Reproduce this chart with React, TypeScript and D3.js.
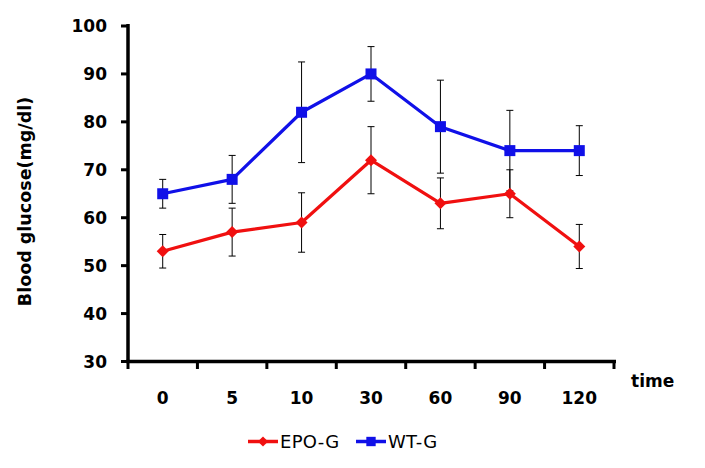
import React from "react";
import * as d3 from "d3";

const categories = ["0", "5", "10", "30", "60", "90", "120"];
const epoValues = [53, 57, 59, 72, 63, 65, 54];
const epoErrors = [3.5, 5, 6.2, 7, 5.3, 5, 4.6];
const wtValues = [65, 68, 82, 90, 79, 74, 74];
const wtErrors = [3, 5, 10.5, 5.7, 9.7, 8.4, 5.2];
const yTicks = [30, 40, 50, 60, 70, 80, 90, 100];

const W = 705, H = 468;
const FONT = "'DejaVu Sans', sans-serif";

export default function App() {
  const x = d3.scaleBand().domain(categories).range([128, 614]).padding(0);
  const y = d3.scaleLinear().domain([30, 100]).range([361.5, 26]);
  const cx = (c: string) => (x(c) as number) + x.bandwidth() / 2;
  const line = d3.line<number>().x((_, i) => cx(categories[i])).y((d) => y(d));
  const series = [
    { name: "EPO-G", values: epoValues, errors: epoErrors, color: "#f01010", shape: "diamond" },
    { name: "WT-G", values: wtValues, errors: wtErrors, color: "#1010e8", shape: "square" },
  ];
  const boundaries = [...categories.map((c) => x(c) as number), 614];
  const marker = (shape: string, px: number, py: number, color: string, key: string, s = 1) =>
    shape === "diamond" ? (
      <path key={key} d={`M${px},${py - 6 * s}L${px + 6 * s},${py}L${px},${py + 6 * s}L${px - 6 * s},${py}Z`} fill={color} />
    ) : (
      <rect key={key} x={px - 5.5 * s} y={py - 5.5 * s} width={11 * s} height={11 * s} fill={color} />
    );
  return (
    <svg width={W} height={H} style={{ position: "absolute", left: 0, top: 0, background: "#fff" }} fontFamily={FONT}>
      {/* error bars */}
      {series.map((s) =>
        s.values.map((v, i) => {
          const px = cx(categories[i]);
          const e = s.errors[i];
          return (
            <g key={s.name + "e" + i} stroke="#000" strokeWidth={1}>
              <line x1={px} x2={px} y1={y(v + e)} y2={y(v - e)} />
              <line x1={px - 3.5} x2={px + 3.5} y1={y(v + e)} y2={y(v + e)} />
              <line x1={px - 3.5} x2={px + 3.5} y1={y(v - e)} y2={y(v - e)} />
            </g>
          );
        })
      )}
      {series.map((s) => (
        <g key={s.name}>
          <path d={line(s.values) as string} fill="none" stroke={s.color} strokeWidth={3.2} strokeLinejoin="round" />
          {s.values.map((v, i) => marker(s.shape, cx(categories[i]), y(v), s.color, s.name + i))}
        </g>
      ))}
      {/* axes */}
      <line x1={128} x2={128} y1={24} y2={363} stroke="#000" strokeWidth={3.5} />
      <line x1={126.3} x2={616} y1={361.5} y2={361.5} stroke="#000" strokeWidth={3.5} />
      {yTicks.map((t) => (
        <g key={t}>
          <line x1={121} x2={128} y1={y(t)} y2={y(t)} stroke="#000" strokeWidth={3} />
          <text x={107} y={y(t)} dy="0.36em" textAnchor="end" fontSize={17} fontWeight="bold">{t}</text>
        </g>
      ))}
      {boundaries.map((b, i) => (
        <line key={"xt" + i} x1={b} x2={b} y1={361.5} y2={369} stroke="#000" strokeWidth={3} />
      ))}
      {categories.map((c) => (
        <text key={"xl" + c} x={cx(c)} y={398} dy="0.36em" textAnchor="middle" fontSize={17} fontWeight="bold">{c}</text>
      ))}
      <text x={631} y={387} fontSize={17} fontWeight="bold">time</text>
      <text transform="translate(25,201.5) rotate(-90)" dy="0.36em" textAnchor="middle" fontSize={17.5} fontWeight="bold">Blood glucose(mg/dl)</text>
      {/* legend */}
      {series.map((s, i) => {
        const lx = i === 0 ? 248 : 356;
        const ly = 441.5;
        return (
          <g key={"lg" + s.name}>
            <line x1={lx} x2={lx + 30} y1={ly} y2={ly} stroke={s.color} strokeWidth={3.5} />
            {marker(s.shape, lx + 15, ly, s.color, "lm" + i, 0.85)}
            <text x={lx + 32} y={ly} dy="0.36em" fontSize={18} letterSpacing={0.3}>{s.name}</text>
          </g>
        );
      })}
    </svg>
  );
}
